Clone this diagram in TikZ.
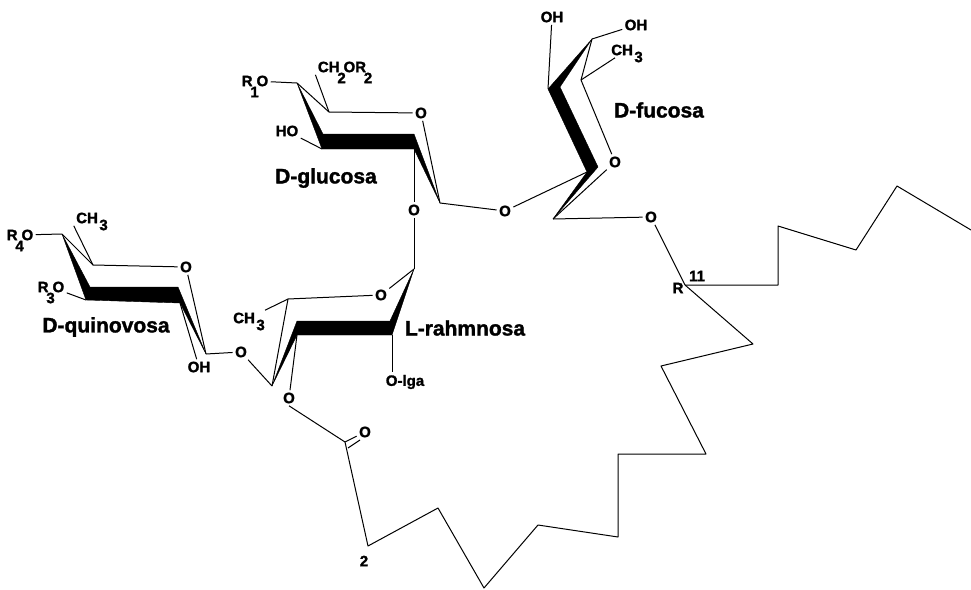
\documentclass[tikz,border=0pt]{standalone}
\usepackage{fontspec}
\setmainfont{Liberation Sans}[BoldFeatures={FakeBold=1.5}]
\newcommand{\lowsub}[1]{\makebox[4pt][c]{\raisebox{-11pt}[0pt][0pt]{#1}}}
\newcommand{\gapsub}[1]{\hspace{1.5pt}\raisebox{-7pt}[0pt][0pt]{#1}}
\tikzset{
  bond/.style = {draw = black, line width = 1pt, line join = round},
  wedge/.style = {fill = black, draw = black, line width = 0.4pt, line join = round},
  atom/.style = {inner sep = 1pt, outer sep = 1.5pt, font = \fontsize{15}{16}\selectfont\bfseries},
  sugar/.style = {inner sep = 0pt, font = \fontsize{21}{24}\selectfont\bfseries}
}

\begin{document}
\begin{tikzpicture}[x=1pt, y=-1pt]
                \useasboundingbox (0,0) rectangle (971,589);

                % D-quinovosa
                \coordinate (q1) at (62,234);
                \coordinate (q2) at (93,265);
                \coordinate (q3) at (90,287);
                \coordinate (q4) at (178,287);
                \coordinate (q5) at (206,354);
                \coordinate (q6) at (180,303);
                \coordinate (q7) at (86,300);
                \node[atom] (r4o) at (20,235) {R\lowsub{4}O};
                \node[atom] (r3o) at (51,287) {R\lowsub{3}O};
                \node[atom] (qch) at (92,218) {CH\gapsub{3}};
                \node[atom] (qo) at (186,267) {O};
                \node[atom] (qoh) at (199,367) {OH};
                \node[atom] (ql) at (241,352) {O};
                \node[sugar] (quinovosa) at (106,327) {D-quinovosa};

                \fill[wedge] (q1) -- (q3) -- (q4) -- (q5) -- (q6) -- (q7) -- cycle;
                \draw[bond] (r4o) -- (q1);
                \draw[bond] (q1) -- (q2);
                \draw[bond] (qch.south west) -- (q2);
                \draw[bond] (q2) -- (qo);
                \draw[bond] (qo) -- (q5);
                \draw[bond] (r3o) -- (q7);
                \draw[bond] (q6) -- (qoh);
                \draw[bond] (q5) -- (ql);

                % L-rahmnosa
                \coordinate (a1) at (272,386);
                \coordinate (a2) at (288,299);
                \coordinate (a3) at (297,321);
                \coordinate (a4) at (390,321);
                \coordinate (a5) at (414,269);
                \coordinate (a6) at (392,335);
                \coordinate (a7) at (297,335);
                \node[atom] (ach) at (249,318) {CH\gapsub{3}};
                \node[atom] (ao) at (381,295) {O};
                \node[atom] (ac) at (289,398) {O};
                \node[atom] (alga) at (405,382) {O-lga};
                \node[sugar] (rahmnosa) at (465,328) {L-rahmnosa};

                \fill[wedge] (a1) -- (a3) -- (a4) -- (a5) -- (a6) -- (a7) -- cycle;
                \draw[bond] (ql) -- (a1);
                \draw[bond] (a1) -- (a2);
                \draw[bond] (ach) -- (a2);
                \draw[bond] (a2) -- (ao);
                \draw[bond] (ao) -- (a5);
                \draw[bond] (a7) -- (ac);
                \draw[bond] (a6) -- (a6 |- alga.north);

                % D-glucosa
                \coordinate (g1) at (297,83);
                \coordinate (g2) at (329,112);
                \coordinate (g3) at (323,134);
                \coordinate (g4) at (414,134);
                \coordinate (g5) at (440,203);
                \coordinate (g6) at (414,149);
                \coordinate (g7) at (322,149);
                \node[atom] (r1o) at (255,81) {R\lowsub{1}O};
                \node[atom] (gch) at (344,67) {CH\lowsub{2}OR\lowsub{2}};
                \node[atom] (ghoh) at (287,131) {HO};
                \node[atom] (go) at (421,113) {O};
                \node[atom] (gl) at (414,210) {O};
                \node[atom] (gr) at (505,211) {O};
                \node[sugar] (glucosa) at (326,178) {D-glucosa};

                \fill[wedge] (g1) -- (g3) -- (g4) -- (g5) -- (g6) -- (g7) -- cycle;
                \draw[bond] (r1o) -- (g1);
                \draw[bond] (g1) -- (g2);
                \draw[bond] (gch.south west) -- (g2);
                \draw[bond] (g2) -- (go);
                \draw[bond] (go) -- (g5);
                \draw[bond] (ghoh) -- (g7);
                \draw[bond] (g6) -- (gl);
                \draw[bond] (gl) -- (a5);
                \draw[bond] (g5) -- (gr);

                % D-fucosa
                \coordinate (f1) at (592,39);
                \coordinate (f2) at (581,80);
                \coordinate (f3) at (560,87);
                \coordinate (f4) at (598,167);
                \coordinate (f5) at (553,219);
                \coordinate (f6) at (587,172);
                \coordinate (f7) at (548,89);
                \node[atom] (foh) at (552,17) {OH};
                \node[atom] (fohr) at (636,25) {OH};
                \node[atom] (fch) at (627,50) {CH\gapsub{3}};
                \node[atom] (fo) at (615,162) {O};
                \node[atom] (fout) at (651,217) {O};
                \node[sugar] (fucosa) at (659,110) {D-fucosa};

                \fill[wedge] (f1) -- (f3) -- (f4) -- (f5) -- (f6) -- (f7) -- cycle;
                \draw[bond] (foh) -- (f7);
                \draw[bond] (f1) -- (fohr);
                \draw[bond] (fch) -- (f2);
                \draw[bond] (f1) -- (f2);
                \draw[bond] (f2) -- (fo);
                \draw[bond] (fo) -- (f5);
                \draw[bond] (gr) -- (f6);
                \draw[bond] (f5) -- (fout);

                % lactone ring
                \coordinate (c0) at (345,442);
                \coordinate (c1) at (368,546);
                \coordinate (c2) at (438,508);
                \coordinate (c3) at (484,588);
                \coordinate (c4) at (538,525);
                \coordinate (c5) at (618,537);
                \coordinate (c6) at (618,454);
                \coordinate (c7) at (706,454);
                \coordinate (c8) at (661,366);
                \coordinate (c9) at (753,344);
                \coordinate (r11) at (685,285);
                \coordinate (e1) at (778,285);
                \coordinate (e2) at (778,226);
                \coordinate (e3) at (856,250);
                \coordinate (e4) at (897,186);
                \coordinate (e5) at (971,230);
                \coordinate (d1) at (348,448);
                \coordinate (d2) at (360,440);
                \node[atom] (co) at (365,432) {O};
                \node[atom] (two) at (364,561) {2};
                \node[atom, inner sep = 0pt] (rlab) at (678,288) {R};
                \node[atom, inner sep = 0pt] (eleven) at (697,276) {11};

                \draw[bond] (ac.south) -- (c0);
                \draw[bond] (c0) -- (co);
                \draw[bond] (d1) -- (d2);
                \draw[bond] (c0) -- (c1) -- (c2) -- (c3) -- (c4) -- (c5) -- (c6) -- (c7) -- (c8) -- (c9) -- (r11);
                \draw[bond] (fout) -- (r11);
                \draw[bond] (r11) -- (e1) -- (e2) -- (e3) -- (e4) -- (e5);

        \end{tikzpicture}
\end{document}
